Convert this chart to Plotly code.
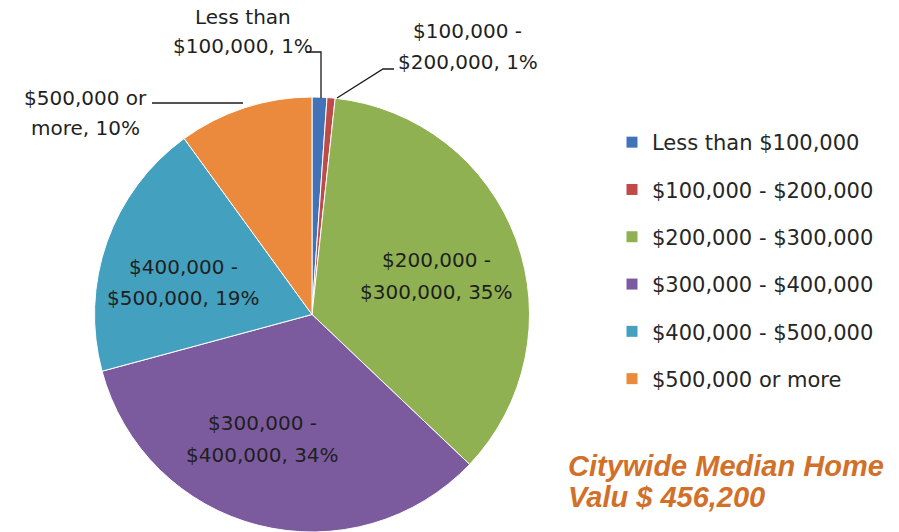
import plotly.graph_objects as go

# ---- data ----
categories = ["Less than $100,000", "$100,000 - $200,000", "$200,000 - $300,000",
              "$300,000 - $400,000", "$400,000 - $500,000", "$500,000 or more"]
label_lines = ["Less than<br>$100,000", "$100,000 -<br>$200,000", "$200,000 -<br>$300,000",
               "$300,000 -<br>$400,000", "$400,000 -<br>$500,000", "$500,000 or<br>more"]
shares = [1.1, 0.6, 35.4, 33.7, 19.2, 10.0]
colors = ["#4272B8", "#BE4B48", "#8FB151", "#7B5B9E", "#43A1BF", "#EB8A3C"]
title_lines = ["Citywide Median Home", "Valu $ 456,200"]

W, H = 899, 532
total = sum(shares)
pct = [round(v / total * 100) for v in shares]

def px(x):
    return x / W

def py(y):
    return 1 - y / H

FONT = "DejaVu Sans"
TXT = "#1F1F1F"

fig = go.Figure()
fig.add_trace(go.Pie(
    labels=categories,
    values=shares,
    textinfo="none",
    sort=False,
    direction="clockwise",
    rotation=0,
    marker=dict(colors=colors, line=dict(color="white", width=1)),
    showlegend=False,
    hoverinfo="skip",
    domain=dict(x=[px(94.5), px(529.5)], y=[0, py(97)]),
))

# legend entries
for c, col in zip(categories, colors):
    fig.add_trace(go.Scatter(
        x=[None], y=[None], mode="markers", name=c, legendgroup=c,
        marker=dict(symbol="square", size=11, color=col),
        showlegend=True, hoverinfo="skip",
    ))

# slice labels: (slice index, centre x, first line y, line gap)
label_pos = [
    (0, 243, 17, 29),
    (1, 468, 31, 31),
    (2, 436, 260, 32),
    (3, 262, 423, 32),
    (4, 183, 267, 31),
    (5, 85, 98, 30),
]
leaders = [
    [(306, 52), (321, 52), (321, 98)],
    [(394, 69), (383, 69), (337, 98)],
    [(152, 103), (243, 103)],
]

annotations = []
shapes = []
for idx, cx, y0, gap in label_pos:
    lines = label_lines[idx].split("<br>")
    lines[-1] = f"{lines[-1]}, {pct[idx]}%"
    for k, ln in enumerate(lines):
        annotations.append(dict(
            x=px(cx), y=py(y0 + k * gap), xref="paper", yref="paper",
            text=ln, showarrow=False,
            font=dict(family=FONT, size=20, color=TXT), align="center",
            xanchor="center", yanchor="middle",
        ))
for pts in leaders:
    path = "M " + " L ".join(f"{px(x)},{py(y)}" for x, y in pts)
    shapes.append(dict(type="path", path=path, xref="paper", yref="paper",
                       line=dict(color="#1A1A1A", width=1.3)))

for t, yy in zip(title_lines, [466, 497]):
    annotations.append(dict(
        x=px(566), y=py(yy), xref="paper", yref="paper",
        text=f"<b><i>{t}</i></b>", showarrow=False,
        font=dict(family="Liberation Sans, Arial", size=29, color="#D2702A"),
        xanchor="left", yanchor="middle",
    ))

fig.update_layout(
    width=W, height=H,
    margin=dict(l=0, r=0, t=0, b=0),
    paper_bgcolor="white", plot_bgcolor="white",
    xaxis=dict(visible=False, domain=[0.99, 1]),
    yaxis=dict(visible=False, domain=[0.99, 1]),
    legend=dict(
        x=px(612), y=py(122), xanchor="left", yanchor="top",
        font=dict(family=FONT, size=21, color="#262626"),
        tracegroupgap=17, bgcolor="rgba(0,0,0,0)",
    ),
    annotations=annotations,
    shapes=shapes,
)

fig.write_html("out.html", config={"displayModeBar": False},
               post_script="document.body.style.margin='0';")
